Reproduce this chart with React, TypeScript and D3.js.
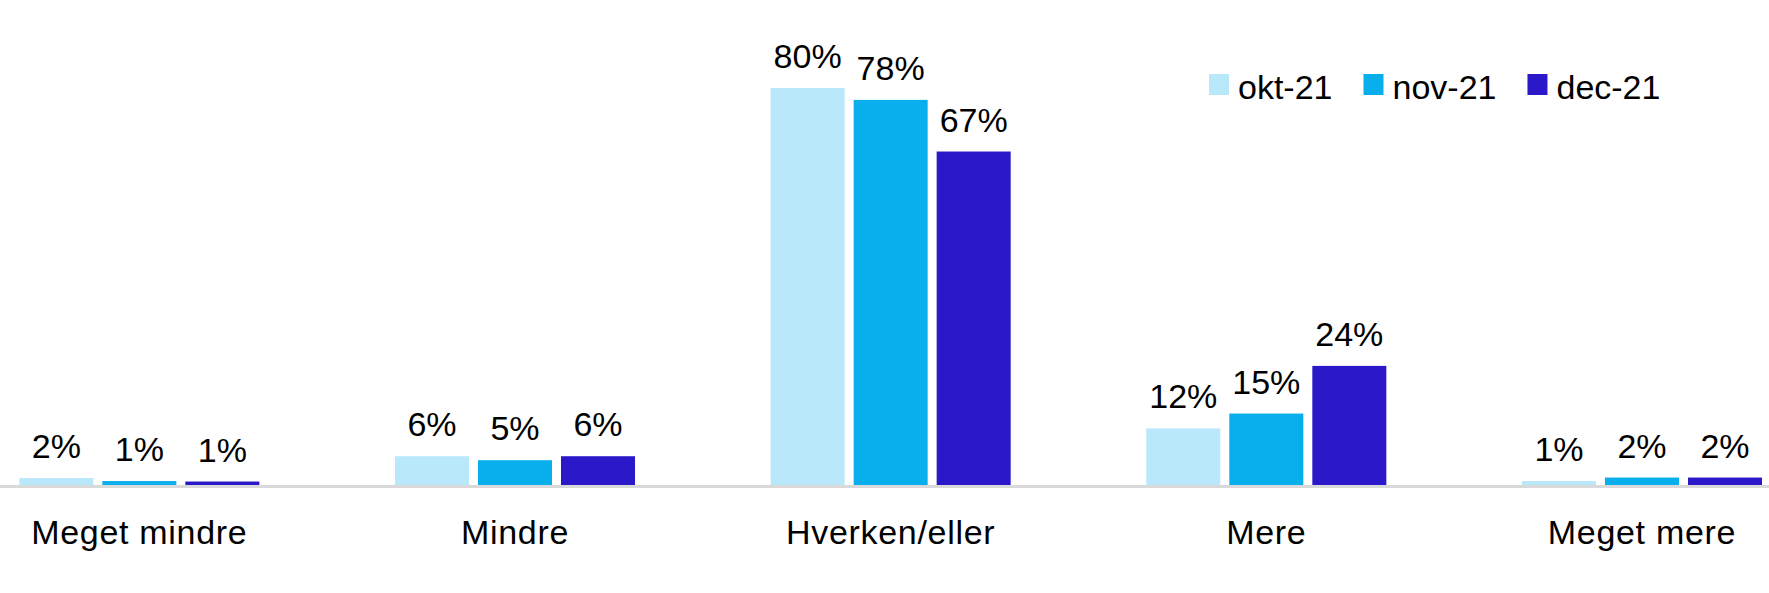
import { useEffect, useRef } from 'react';
import * as d3 from 'd3';

const categories = ['Meget mindre', 'Mindre', 'Hverken/eller', 'Mere', 'Meget mere'];
const seriesNames = ['okt-21', 'nov-21', 'dec-21'];
const seriesColors = ['#bae8fb', '#09aeec', '#2b19c9'];

// bar heights (%)
const oktValues = [1.4, 5.8, 80, 11.4, 0.8];
const novValues = [0.8, 5.0, 77.6, 14.4, 1.5];
const decValues = [0.7, 5.8, 67.2, 24.0, 1.5];

// printed data labels
const oktLabels = ['2%', '6%', '80%', '12%', '1%'];
const novLabels = ['1%', '5%', '78%', '15%', '2%'];
const decLabels = ['1%', '6%', '67%', '24%', '2%'];

const width = 1769;
const height = 593;
const font = '"Liberation Sans", Arial, sans-serif';

export default function App() {
  const svgRef = useRef<SVGSVGElement>(null);

  useEffect(() => {
    if (!svgRef.current) return;
    const svg = d3.select(svgRef.current);
    svg.selectAll('*').remove();

    const values = [oktValues, novValues, decValues];
    const labels = [oktLabels, novLabels, decLabels];

    const x0 = d3.scaleBand<string>()
      .domain(categories)
      .range([19.3, 1762])
      .paddingInner(0.361)
      .paddingOuter(0);

    const x1 = d3.scaleBand<string>()
      .domain(seriesNames)
      .range([0, x0.bandwidth()])
      .paddingInner(0.1084)
      .paddingOuter(0);

    const y = d3.scaleLinear().domain([0, 80]).range([485, 88]);

    const rows = categories.map((c, i) => ({
      category: c,
      items: seriesNames.map((s, j) => ({ series: s, value: values[j][i], label: labels[j][i], color: seriesColors[j] })),
    }));

    const groups = svg.append('g')
      .selectAll('g')
      .data(rows)
      .enter()
      .append('g')
      .attr('transform', d => `translate(${x0(d.category)},0)`);

    groups.selectAll('rect')
      .data(d => d.items)
      .enter()
      .append('rect')
      .attr('x', d => x1(d.series) || 0)
      .attr('y', d => y(d.value))
      .attr('width', x1.bandwidth())
      .attr('height', d => y(0) - y(d.value))
      .attr('fill', d => d.color);

    groups.selectAll('text')
      .data(d => d.items)
      .enter()
      .append('text')
      .attr('x', d => (x1(d.series) || 0) + x1.bandwidth() / 2)
      .attr('y', d => y(d.value) - 20)
      .attr('text-anchor', 'middle')
      .attr('font-family', font)
      .attr('font-size', 34)
      .attr('fill', '#000')
      .text(d => d.label);

    // baseline
    svg.append('line')
      .attr('x1', 0)
      .attr('x2', width)
      .attr('y1', 486.4)
      .attr('y2', 486.4)
      .attr('stroke', '#d9d9d9')
      .attr('stroke-width', 3);

    // category labels
    svg.append('g')
      .selectAll('text')
      .data(categories)
      .enter()
      .append('text')
      .attr('x', d => (x0(d) || 0) + x0.bandwidth() / 2)
      .attr('y', 543.5)
      .attr('text-anchor', 'middle')
      .attr('font-family', font)
      .attr('font-size', 34)
      .attr('letter-spacing', 0.7)
      .attr('fill', '#000')
      .text(d => d);

    // legend
    const legend = svg.append('g');
    let lx = 1209;
    seriesNames.forEach((name, i) => {
      legend.append('rect')
        .attr('x', lx)
        .attr('y', 74)
        .attr('width', 20)
        .attr('height', 21)
        .attr('fill', seriesColors[i]);
      const t = legend.append('text')
        .attr('x', lx + 29)
        .attr('y', 99)
        .attr('font-family', font)
        .attr('font-size', 34)
        .attr('fill', '#000')
        .text(name);
      const len = (t.node() as SVGTextElement).getComputedTextLength();
      lx += 29 + len + 31;
    });
  }, []);

  return (
    <svg
      ref={svgRef}
      width={width}
      height={height}
      style={{ position: 'absolute', left: 0, top: 0, background: '#fff' }}
    />
  );
}
